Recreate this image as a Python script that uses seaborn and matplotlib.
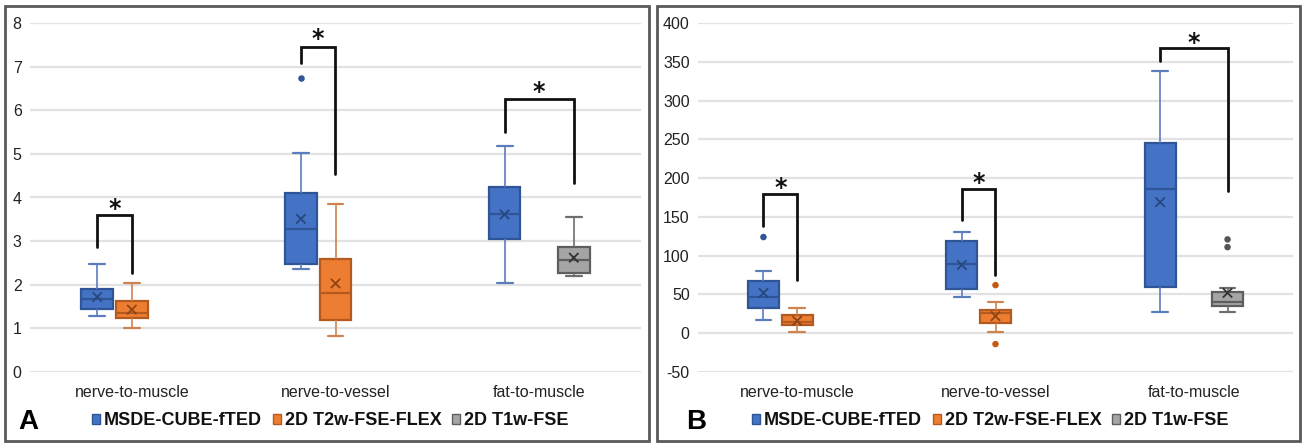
import numpy as np
import pandas as pd
import matplotlib
matplotlib.use("Agg")
import matplotlib.pyplot as plt
from matplotlib.patches import Patch, Rectangle
import seaborn as sns

# ---------------- data ----------------
categories = ["nerve-to-muscle", "nerve-to-vessel", "fat-to-muscle"]
methods = ["MSDE-CUBE-fTED", "2D T2w-FSE-FLEX", "2D T1w-FSE"]

# boxes present (category index, method index)
box_cat = [0, 0, 1, 1, 2, 2]
box_met = [0, 1, 0, 1, 0, 2]

# Panel A
a_low  = [1.28, 1.01, 2.35, 0.83, 2.05, 2.21]
a_q1   = [1.44, 1.24, 2.47, 1.20, 3.06, 2.28]
a_med  = [1.67, 1.36, 3.28, 1.82, 3.63, 2.56]
a_q3   = [1.91, 1.63, 4.10, 2.60, 4.25, 2.86]
a_high = [2.47, 2.03, 5.03, 3.85, 5.18, 3.56]
a_mean = [1.72, 1.43, 3.51, 2.03, 3.61, 2.62]
a_out_cat = [1]
a_out_met = [0]
a_out_val = [6.74]
# significance brackets: left leg bottom, top, right leg bottom, star
a_br_left  = [2.87, 7.08, 5.50]
a_br_top   = [3.60, 7.44, 6.26]
a_br_right = [2.27, 4.54, 4.33]
a_br_star  = [3.87, 7.77, 6.56]
a_br_met   = [1, 1, 2]

# Panel B
b_low  = [17, 1, 47, 2, 28, 27]
b_q1   = [32, 10, 57, 13, 60, 35]
b_med  = [47, 15, 89, 26, 186, 40]
b_q3   = [67, 24, 119, 30, 245, 53]
b_high = [80, 33, 131, 40, 338, 58]
b_mean = [52, 16, 88, 22, 169, 52]
b_out_cat = [0, 1, 1, 2, 2]
b_out_met = [0, 1, 1, 2, 2]
b_out_val = [124, 62, -14, 121, 111]
b_br_left  = [138, 146, 351]
b_br_top   = [180, 186, 368]
b_br_right = [68, 75, 183]
b_br_star  = [195, 202, 382]
b_br_met   = [1, 1, 2]

# ---------------- style ----------------
fill_col  = {methods[0]: "#4472C4", methods[1]: "#ED7D31", methods[2]: "#A5A5A5"}
edge_col  = {methods[0]: "#2F5597", methods[1]: "#B45A1E", methods[2]: "#5E5E5E"}
whisk_col = {methods[0]: "#5B7DBD", methods[1]: "#CF8350", methods[2]: "#6E6E6E"}
mean_col  = {methods[0]: "#26487F", methods[1]: "#8E4413", methods[2]: "#333333"}
out_col   = {methods[0]: "#2F5597", methods[1]: "#C55A11", methods[2]: "#555555"}

BOX_WIDTH = 0.51
GAP = 0.08
N_HUE = len(methods)

sns.set_theme(style="white")
plt.rcParams["font.family"] = ["Liberation Sans", "DejaVu Sans"]


def dodge_pos(ci, mi):
    slot = BOX_WIDTH / N_HUE
    return ci + slot * (mi + 0.5) - BOX_WIDTH / 2


def build_df(low, q1, med, q3, high):
    rows = []
    for i in range(len(box_cat)):
        for v in (low[i], q1[i], med[i], q3[i], high[i]):
            rows.append({"category": categories[box_cat[i]],
                         "method": methods[box_met[i]], "value": v})
    return pd.DataFrame(rows)


def draw_panel(ax, low, q1, med, q3, high, mean, oc, om, ov,
               brl, brt, brr, brs, brm, ylim, yticks, letter, fig):
    df = build_df(low, q1, med, q3, high)
    for m in methods:
        sub = df[df["method"] == m]
        sns.boxplot(data=sub, x="category", y="value", hue="method",
                    order=categories, hue_order=methods, palette=fill_col,
                    saturation=1, width=BOX_WIDTH, gap=GAP, whis=(0, 100),
                    dodge=True, linecolor=edge_col[m], linewidth=1.6,
                    fliersize=0,
                    whiskerprops=dict(color=whisk_col[m], linewidth=1.2),
                    capprops=dict(color=whisk_col[m], linewidth=1.6),
                    medianprops=dict(color=edge_col[m], linewidth=1.6),
                    legend=False, ax=ax, zorder=3)

    mdf = pd.DataFrame({
        "pos": [dodge_pos(c, m) for c, m in zip(box_cat, box_met)],
        "value": mean,
        "method": [methods[m] for m in box_met]})
    sns.scatterplot(data=mdf, x="pos", y="value", hue="method",
                    palette=mean_col, marker="x", s=45, linewidth=1.3,
                    legend=False, ax=ax, zorder=5)

    odf = pd.DataFrame({
        "pos": [dodge_pos(c, m) for c, m in zip(oc, om)],
        "value": ov,
        "method": [methods[m] for m in om]})
    sns.scatterplot(data=odf, x="pos", y="value", hue="method",
                    palette=out_col, marker="o", s=22, linewidth=0,
                    legend=False, ax=ax, zorder=5)

    # significance brackets
    for ci in range(len(categories)):
        xl = dodge_pos(ci, 0)
        xr = dodge_pos(ci, brm[ci])
        ax.plot([xl, xl, xr, xr], [brl[ci], brt[ci], brt[ci], brr[ci]],
                color="#111111", lw=2.0, solid_joinstyle="miter", zorder=6)
        ax.annotate("*", xy=((xl + xr) / 2, brs[ci]), xytext=(0, -9.5),
                    textcoords="offset points", ha="center", va="baseline",
                    fontsize=17, fontweight="bold", color="#111111",
                    family="DejaVu Sans", zorder=6)

    ax.set_xlim(-0.5, len(categories) - 0.5)
    ax.set_ylim(*ylim)
    ax.set_yticks(yticks)
    ax.set_yticklabels([f"{t:g}" for t in yticks])
    ax.set_xlabel("")
    ax.set_ylabel("")
    ax.yaxis.grid(True, color="#E2E2E2", lw=1.6)
    ax.xaxis.grid(False)
    ax.set_axisbelow(True)
    for s in ax.spines.values():
        s.set_visible(False)
    ax.tick_params(axis="y", length=0, pad=6, labelsize=11.5, labelcolor="#222222")
    ax.tick_params(axis="x", length=0, pad=9, labelsize=11.5, labelcolor="#222222")

    handles = [Patch(facecolor=fill_col[m], edgecolor=edge_col[m], lw=1.0, label=m)
               for m in methods]
    pos = ax.get_position()
    leg = fig.legend(handles=handles, loc="center",
                     bbox_to_anchor=(pos.x0 + pos.width / 2 - 0.004, 0.052),
                     ncol=3, frameon=False, handlelength=0.45, handleheight=0.45,
                     handletextpad=0.2, columnspacing=0.6,
                     prop=dict(size=13, weight="bold"))
    for t in leg.get_texts():
        t.set_color("#111111")
    fig.text(pos.x0 - 12 / 1303, 0.049, letter, fontsize=20, fontweight="bold",
             va="center", ha="left", color="#000000")


fig = plt.figure(figsize=(13.03, 4.44), dpi=100)
W, H = 1303, 444
axA = fig.add_axes([30 / W, 72 / H, 611 / W, 349 / H])
axB = fig.add_axes([698 / W, 72 / H, 595 / W, 349 / H])

draw_panel(axA, a_low, a_q1, a_med, a_q3, a_high, a_mean,
           a_out_cat, a_out_met, a_out_val,
           a_br_left, a_br_top, a_br_right, a_br_star, a_br_met,
           (0, 8), list(range(0, 9)), "A", fig)
draw_panel(axB, b_low, b_q1, b_med, b_q3, b_high, b_mean,
           b_out_cat, b_out_met, b_out_val,
           b_br_left, b_br_top, b_br_right, b_br_star, b_br_met,
           (-50, 400), list(range(-50, 401, 50)), "B", fig)

# panel frames
for x0, x1 in [(5, 649), (657, 1300)]:
    fig.add_artist(Rectangle((x0 / W, 3 / H), (x1 - x0) / W, (438 - 3) / H,
                             transform=fig.transFigure, fill=False,
                             edgecolor="#5A5A5A", lw=2.0))

fig.savefig("out.png", dpi=100)
